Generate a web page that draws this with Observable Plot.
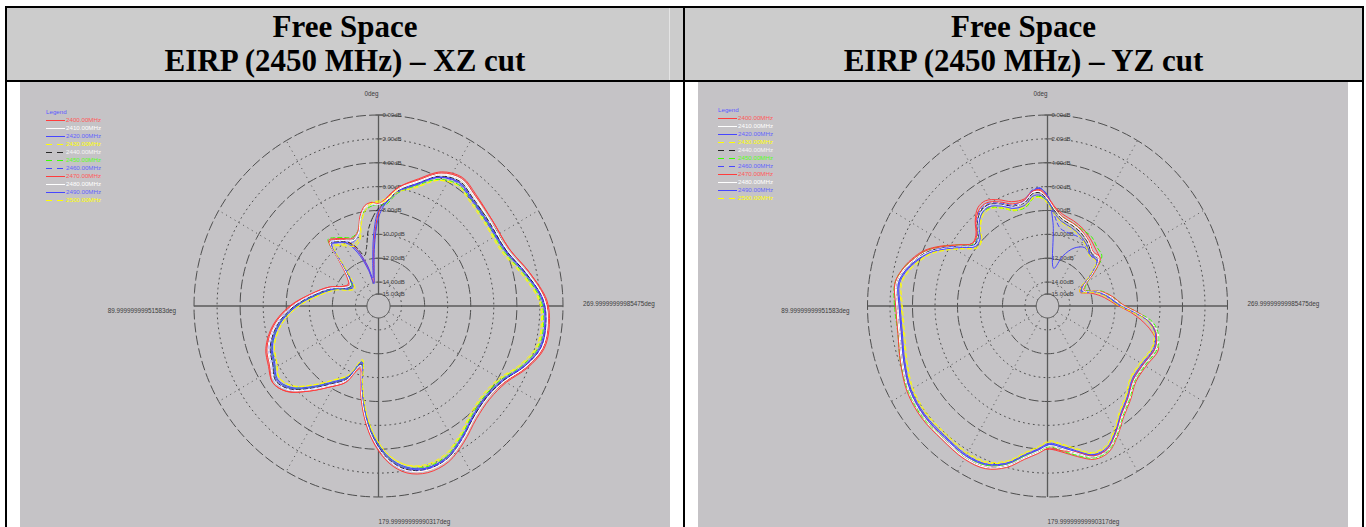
<!DOCTYPE html>
<html>
<head>
<meta charset="utf-8">
<script src="https://cdn.jsdelivr.net/npm/d3@7"></script>
<script src="https://cdn.jsdelivr.net/npm/@observablehq/plot@0.6"></script>
<style>
  html, body { margin: 0; padding: 0; background: #ffffff; }
  body { width: 1366px; height: 527px; overflow: hidden; position: relative; }
  .bar { position: absolute; background: #000000; }
  .head { position: absolute; top: 8px; height: 72px; background: #cccccc; }
  .title { position: absolute; top: 10px; text-align: center; font-family: "Liberation Serif", "Times New Roman", serif;
           font-weight: bold; font-size: 31px; line-height: 34px; color: #000; white-space: nowrap; }
  .panel { position: absolute; top: 82px; width: 650px; height: 445px; background: #c5c3c6; overflow: hidden; }
  .panel svg.plot { position: absolute; left: 0; top: 0; }
  .legend { position: absolute; font-family: "Liberation Sans", Arial, sans-serif; font-size: 6.2px; line-height: 8px; white-space: nowrap; }
  .legend .row { height: 8px; display: flex; align-items: center; }
  .legend svg { display: block; margin-right: 1px; }
</style>
</head>
<body>
<div class="head" style="left:7px;width:676px;"></div>
<div class="head" style="left:685px;width:677px;"></div>
<div style="position:absolute;left:669px;top:8px;width:1px;height:72px;background:#e4e4e4;"></div>
<div class="bar" style="left:5px;top:6px;width:1359px;height:2px;"></div>
<div class="bar" style="left:5px;top:80px;width:1359px;height:2px;"></div>
<div class="bar" style="left:5px;top:6px;width:2px;height:521px;"></div>
<div class="bar" style="left:683px;top:6px;width:2px;height:521px;"></div>
<div class="bar" style="left:1362px;top:6px;width:2px;height:521px;"></div>
<div class="title" style="left:7px;width:676px;">Free Space<br>EIRP (2450 MHz) – XZ cut</div>
<div class="title" style="left:685px;width:677px;">Free Space<br>EIRP (2450 MHz) – YZ cut</div>
<div class="panel" id="pXZ" style="left:20px;"></div>
<div class="panel" id="pYZ" style="left:698px;"></div>

<script>
// ---------------- DATA ----------------
const FREQS = ["2400.00MHz","2410.00MHz","2420.00MHz","2430.00MHz","2440.00MHz","2450.00MHz",
               "2460.00MHz","2470.00MHz","2480.00MHz","2490.00MHz","2500.00MHz"];
const LINE_COLORS = ["#ff3c3c","#ffffff","#4646ff","#ffff00","#282828","#3cff00",
                     "#4646ff","#ff3c3c","#ffffff","#4646ff","#ffff00"];
const TEXT_COLORS = ["#ff5a5a","#ffffff","#6464ff","#ffff00","#f4f4f4","#5aff1e",
                     "#6464ff","#ff5a5a","#ffffff","#6464ff","#ffff00"];
const DASHED = [false,false,false,true,true,true,true,false,false,false,true];

// dB grid
const RING_DASHED = [0, -4, -8, -12];
const RING_DOTTED = [-2, -6, -10, -14];
const RING_SOLID = [-15];
const DB_LABEL_LEVELS = [0, -2, -4, -6, -8, -10, -12, -14, -15];
const SPOKE_ANGLES = [30, 60, 120, 150, 210, 240, 300, 330];
const AXIS_ANGLES = [0, 90, 180, 270];
const DB_MIN = -16, DB_MAX = 0;
const ANGLE_LABELS = ["0deg", "89.99999999951583deg", "179.99999999990317deg", "269.99999999985475deg"];

// XZ cut: angle (deg, counter-clockwise from top) and EIRP (dB) per frequency
const XZ_ANGLES = [0,4,8,12,16,22,28,34,38,42, 48,55,62,70,80,90,100,110,118,125,
  132,140,148,156,163,168,173,178,184,190, 197,205,213,222,231,240,248,256,264,272,
  282,293,306,318,326,334,342,350,356];
const XZ_2400 = [-8.2,-10.6,-13.0,-14.0,-12.6,-10.8,-9.7,-9.3,-9.1,-11.0, -12.4,-12.9,-12.5,-11.4,-10.1,-8.3,-6.7,-5.6,-5.2,-4.8,
  -5.3,-6.7,-8.0,-9.0,-10.5,-8.6,-6.4,-4.6,-3.0,-2.0, -1.6,-1.8,-2.6,-3.5,-3.8,-3.3,-2.2,-1.3,-1.2,-1.5,
  -2.6,-3.7,-3.8,-3.4,-3.0,-3.5,-4.8,-5.9,-7.0];
const XZ_2410 = [-7.4,-7.4,-7.6,-8.4,-9.7,-10.1,-9.8,-9.4,-9.2,-11.1, -12.5,-13.0,-12.7,-11.6,-10.2,-8.5,-6.9,-5.8,-5.4,-5.0,
  -5.5,-6.8,-8.1,-9.1,-10.6,-8.7,-6.6,-4.7,-3.0,-2.0, -1.6,-1.8,-2.6,-3.5,-3.8,-3.4,-2.3,-1.4,-1.3,-1.6,
  -2.8,-3.9,-4.0,-3.6,-3.2,-3.7,-5.0,-6.0,-7.1];
const XZ_2420 = [-8.6,-11.0,-13.3,-14.1,-12.9,-11.2,-10.0,-9.6,-9.4,-11.3, -12.7,-13.2,-12.9,-11.8,-10.5,-8.8,-7.2,-6.1,-5.7,-5.2,
  -5.7,-7.1,-8.4,-9.4,-11.0,-9.0,-6.8,-4.9,-3.2,-2.2, -1.8,-2.0,-2.8,-3.6,-3.9,-3.5,-2.4,-1.5,-1.4,-1.7,
  -2.9,-4.0,-4.2,-3.9,-3.5,-4.0,-5.3,-6.3,-7.4];
const XZ_2430 = [-7.2,-7.3,-7.7,-8.7,-10.0,-10.4,-10.1,-9.8,-9.6,-11.5, -12.9,-13.4,-13.1,-12.0,-10.8,-9.1,-7.5,-6.4,-6.0,-5.5,
  -6.0,-7.4,-8.7,-9.6,-11.2,-9.3,-7.1,-5.2,-3.5,-2.5, -2.0,-2.2,-3.0,-3.9,-4.2,-3.8,-2.7,-1.8,-1.7,-2.0,
  -3.2,-4.3,-4.4,-4.1,-3.8,-4.3,-5.5,-6.1,-7.0];
const XZ_2440 = [-7.8,-8.6,-9.6,-11.0,-11.6,-10.6,-9.9,-9.5,-9.3,-11.2, -12.6,-13.1,-12.8,-11.7,-10.4,-8.7,-7.1,-6.0,-5.6,-5.1,
  -5.6,-7.0,-8.3,-9.3,-10.9,-8.9,-6.7,-4.8,-3.1,-2.1, -1.7,-1.9,-2.7,-3.6,-3.9,-3.5,-2.4,-1.5,-1.4,-1.7,
  -2.9,-4.0,-4.1,-3.8,-3.4,-3.9,-5.2,-6.2,-7.3];
const XZ_2450 = [-7.5,-7.6,-7.9,-8.5,-9.5,-9.8,-9.5,-9.1,-8.9,-11.0, -12.6,-13.2,-13.0,-11.9,-10.6,-8.9,-7.3,-6.2,-5.8,-5.3,
  -5.8,-7.2,-8.5,-9.5,-11.1,-9.1,-6.9,-5.0,-3.3,-2.3, -1.9,-2.1,-2.9,-3.8,-4.1,-3.7,-2.6,-1.7,-1.6,-1.9,
  -3.1,-4.2,-4.3,-4.0,-3.7,-4.2,-5.4,-6.4,-7.5];
const XZ_2460 = [-7.5,-7.5,-7.7,-8.5,-9.7,-10.2,-9.8,-9.4,-9.2,-11.1, -12.5,-13.0,-12.7,-11.6,-10.3,-8.6,-7.0,-5.9,-5.5,-5.0,
  -5.5,-6.9,-8.2,-9.2,-10.8,-8.8,-6.6,-4.7,-3.0,-2.0, -1.7,-1.9,-2.7,-3.7,-4.0,-3.6,-2.4,-1.5,-1.4,-1.7,
  -3.0,-4.1,-4.3,-4.0,-3.6,-4.0,-5.2,-6.2,-7.3];
const XZ_2470 = [-7.4,-7.3,-7.5,-8.3,-9.5,-9.9,-9.6,-9.2,-9.0,-10.9, -12.3,-12.8,-12.5,-11.4,-10.1,-8.4,-6.8,-5.7,-5.3,-4.8,
  -5.3,-6.7,-8.0,-9.0,-10.6,-8.6,-6.4,-4.5,-2.8,-1.8, -1.4,-1.6,-2.4,-3.3,-3.6,-3.2,-2.1,-1.2,-1.1,-1.4,
  -2.6,-3.7,-3.8,-3.5,-3.1,-3.6,-4.9,-5.9,-7.0];
const XZ_2480 = [-7.5,-7.5,-7.7,-8.5,-9.7,-10.1,-9.8,-9.4,-9.2,-11.1, -12.5,-13.0,-12.7,-11.6,-10.3,-8.6,-7.0,-5.9,-5.5,-5.0,
  -5.5,-6.9,-8.2,-9.2,-10.8,-8.8,-6.6,-4.7,-3.0,-2.0, -1.6,-1.8,-2.6,-3.5,-3.8,-3.4,-2.3,-1.4,-1.3,-1.6,
  -2.8,-3.9,-4.0,-3.7,-3.3,-3.8,-5.1,-6.1,-7.2];
const XZ_2490 = [-8.0,-10.0,-12.4,-13.6,-12.4,-10.9,-10.0,-9.6,-9.4,-11.4, -12.8,-13.3,-13.0,-11.9,-10.6,-8.9,-7.3,-6.2,-5.8,-5.3,
  -5.8,-7.2,-8.5,-9.5,-11.1,-9.1,-6.9,-5.0,-3.3,-2.3, -1.8,-2.0,-2.8,-3.7,-4.0,-3.6,-2.5,-1.6,-1.5,-1.8,
  -3.0,-4.1,-4.2,-3.9,-3.5,-4.0,-5.3,-6.3,-7.4];
const XZ_2500 = [-7.3,-7.4,-7.9,-8.9,-10.2,-10.6,-10.3,-9.9,-9.7,-11.6, -13.0,-13.5,-13.2,-12.1,-10.8,-9.1,-7.5,-6.4,-6.0,-5.5,
  -6.0,-7.4,-8.7,-9.7,-11.3,-9.3,-7.1,-5.2,-3.5,-2.5, -2.1,-2.3,-3.1,-4.0,-4.3,-3.9,-2.8,-1.9,-1.8,-2.1,
  -3.3,-4.4,-4.5,-4.2,-3.8,-4.3,-5.6,-6.3,-7.2];

// YZ cut
const YZ_ANGLES = [0,4,8,13,20,26,32,37,42,47, 52,57,62,67,72,77,82,90,100,110,
  120,130,140,150,158,165,171,176,181,186, 192,198,204,210,216,223,231,240,250,257,
  262,266,271,278,285,292,298,304,311,318, 326,334,342,350,356];
const YZ_2400 = [-6.8,-6.2,-6.3,-6.8,-6.7,-6.1,-5.6,-5.7,-6.4,-7.3, -7.5,-6.6,-5.3,-4.1,-3.3,-2.7,-2.4,-2.8,-2.8,-2.4,
  -1.9,-1.7,-1.6,-1.4,-1.5,-2.3,-3.3,-3.9,-4.0,-3.7, -3.1,-2.5,-2.6,-3.5,-4.5,-5.2,-5.9,-5.9,-5.5,-6.5,
  -7.6,-8.6,-9.9,-10.9,-11.9,-12.9,-12.6,-11.4,-9.9,-9.6, -9.2,-8.8,-8.5,-8.2,-7.6];
const YZ_2410 = [-7.0,-6.4,-6.4,-7.0,-7.0,-6.4,-5.9,-6.0,-6.6,-7.5, -7.6,-6.7,-5.5,-4.3,-3.5,-2.8,-2.4,-2.6,-2.6,-2.2,
  -1.7,-1.5,-1.5,-1.3,-1.4,-2.1,-3.1,-3.7,-4.2,-3.9, -3.3,-2.6,-2.7,-3.6,-4.6,-5.3,-6.0,-6.0,-5.6,-5.9,
  -6.7,-8.0,-9.4,-10.3,-11.2,-12.5,-12.2,-11.1,-9.9,-9.9, -9.4,-9.0,-8.8,-8.5,-7.8];
const YZ_2420 = [-6.8,-6.1,-6.3,-7.0,-7.2,-6.6,-6.1,-6.2,-6.8,-7.7, -7.8,-6.9,-5.7,-4.5,-3.7,-3.0,-2.6,-2.8,-2.8,-2.4,
  -1.9,-1.7,-1.7,-1.5,-1.6,-2.3,-3.3,-3.9,-4.4,-4.1, -3.5,-2.8,-2.9,-3.8,-4.8,-5.5,-6.2,-6.2,-5.8,-6.1,
  -6.9,-8.2,-9.6,-10.5,-11.4,-12.7,-12.4,-11.3,-10.2,-10.3, -10.1,-10.6,-11.6,-12.8,-9.0];
const YZ_2430 = [-7.3,-6.8,-6.8,-7.3,-7.4,-6.8,-6.3,-6.4,-7.0,-7.9, -8.0,-7.1,-5.9,-4.7,-3.9,-3.2,-2.8,-3.0,-3.0,-2.6,
  -2.1,-1.9,-1.9,-1.7,-1.8,-2.5,-3.5,-4.1,-4.6,-4.3, -3.7,-3.0,-3.1,-4.0,-5.0,-5.7,-6.4,-6.4,-6.0,-6.2,
  -7.0,-8.3,-9.7,-10.6,-11.5,-12.8,-12.5,-11.4,-10.2,-10.3, -9.8,-9.4,-9.1,-8.8,-8.1];
const YZ_2440 = [-7.1,-6.5,-6.5,-7.1,-7.1,-6.5,-6.0,-6.1,-6.7,-7.6, -7.7,-6.8,-5.6,-4.4,-3.6,-2.9,-2.5,-2.7,-2.7,-2.3,
  -1.8,-1.6,-1.6,-1.4,-1.5,-2.2,-3.2,-3.8,-4.3,-4.0, -3.4,-2.7,-2.8,-3.7,-4.7,-5.4,-6.1,-6.1,-5.7,-6.0,
  -6.8,-8.1,-9.5,-10.4,-11.3,-12.6,-12.3,-11.2,-10.0,-10.1, -9.6,-9.2,-8.9,-8.6,-7.9];
const YZ_2450 = [-7.2,-6.8,-6.9,-7.5,-7.5,-6.9,-6.3,-6.3,-6.8,-7.5, -7.6,-6.6,-5.4,-4.2,-3.4,-2.7,-2.3,-2.4,-2.5,-2.1,
  -1.7,-1.5,-1.6,-1.4,-1.6,-2.3,-3.3,-3.8,-4.2,-3.8, -3.2,-2.6,-2.7,-3.6,-4.6,-5.3,-6.0,-6.0,-5.6,-5.9,
  -6.6,-7.9,-9.3,-10.2,-11.1,-12.4,-12.1,-11.0,-9.6,-9.4, -9.0,-8.9,-8.7,-8.4,-7.8];
const YZ_2460 = [-6.7,-6.1,-6.2,-6.9,-7.0,-6.4,-5.9,-6.0,-6.6,-7.5, -7.7,-6.8,-5.6,-4.5,-3.7,-3.0,-2.6,-2.8,-2.8,-2.4,
  -1.9,-1.7,-1.7,-1.5,-1.7,-2.4,-3.4,-3.9,-4.4,-4.1, -3.5,-2.9,-2.9,-3.8,-4.8,-5.5,-6.2,-6.2,-5.8,-6.1,
  -6.9,-8.2,-9.6,-10.5,-11.4,-12.7,-12.4,-11.3,-10.1,-10.2, -9.8,-9.6,-9.6,-9.4,-8.2];
const YZ_2470 = [-6.9,-6.3,-6.3,-6.9,-6.9,-6.3,-5.8,-5.9,-6.5,-7.4, -7.5,-6.6,-5.4,-4.2,-3.4,-2.7,-2.3,-2.5,-2.5,-2.1,
  -1.6,-1.4,-1.4,-1.2,-1.3,-2.0,-3.0,-3.6,-4.1,-3.8, -3.5,-2.8,-2.9,-3.8,-4.8,-5.5,-6.2,-6.2,-5.8,-6.1,
  -6.9,-7.9,-9.3,-10.2,-11.2,-12.5,-12.2,-11.0,-9.8,-9.9, -9.4,-9.0,-8.7,-8.4,-7.7];
const YZ_2480 = [-7.0,-6.4,-6.4,-7.0,-7.2,-6.6,-6.1,-6.2,-6.8,-7.7, -7.8,-6.9,-5.7,-4.5,-3.6,-2.9,-2.5,-2.7,-2.7,-2.3,
  -1.8,-1.6,-1.6,-1.4,-1.5,-2.2,-3.2,-3.8,-4.3,-4.0, -3.4,-2.7,-2.8,-3.7,-4.7,-5.4,-6.1,-6.1,-5.7,-6.0,
  -6.8,-8.1,-9.5,-10.4,-11.3,-12.6,-12.3,-11.2,-10.0,-10.0, -9.5,-9.1,-8.8,-8.5,-7.8];
const YZ_2490 = [-7.2,-6.7,-6.7,-7.3,-7.3,-6.7,-6.2,-6.3,-6.9,-7.8, -7.9,-7.0,-5.8,-4.6,-3.8,-3.1,-2.7,-2.9,-2.9,-2.5,
  -2.0,-1.8,-1.8,-1.6,-1.7,-2.4,-3.4,-4.0,-4.5,-4.2, -3.6,-2.9,-3.0,-3.9,-4.9,-5.6,-6.3,-6.3,-5.9,-6.2,
  -7.0,-8.3,-9.7,-10.6,-11.5,-12.8,-12.5,-11.4,-10.2,-10.3, -9.8,-9.4,-9.1,-8.8,-8.1];
const YZ_2500 = [-7.4,-6.9,-6.9,-7.4,-7.5,-6.9,-6.4,-6.5,-7.1,-8.0, -8.1,-7.2,-6.0,-4.8,-4.0,-3.3,-2.9,-3.1,-3.1,-2.7,
  -2.2,-2.0,-2.0,-1.8,-1.9,-2.6,-3.6,-4.2,-4.7,-4.4, -3.8,-3.1,-3.2,-4.1,-5.1,-5.8,-6.5,-6.5,-6.1,-6.3,
  -7.1,-8.4,-9.8,-10.7,-11.6,-12.9,-12.6,-11.5,-10.3,-10.4, -9.9,-9.5,-9.2,-8.9,-8.2];

const XZ_SERIES = [XZ_2400,XZ_2410,XZ_2420,XZ_2430,XZ_2440,XZ_2450,XZ_2460,XZ_2470,XZ_2480,XZ_2490,XZ_2500];
const YZ_SERIES = [YZ_2400,YZ_2410,YZ_2420,YZ_2430,YZ_2440,YZ_2450,YZ_2460,YZ_2470,YZ_2480,YZ_2490,YZ_2500];

// ---------------- DRAWING ----------------
const rho = db => (db - DB_MIN) / (DB_MAX - DB_MIN);
const px = (deg, db) => -rho(db) * Math.sin(deg * Math.PI / 180);
const py = (deg, db) =>  rho(db) * Math.cos(deg * Math.PI / 180);

function ringRows(levels) {
  const rows = [];
  for (const lv of levels) for (let a = 0; a < 360; a += 2) rows.push({lv, a});
  return rows;
}

function polarPlot(host, angles, seriesList, geo) {
  const {cx, cy, rx, ry} = geo;
  const GRID = "#4e4e4e";
  const LABEL = "#3c3c3c";
  const marks = [];
  // rings
  marks.push(Plot.line(ringRows(RING_DASHED), {x: d => px(d.a, d.lv), y: d => py(d.a, d.lv), z: "lv",
    curve: "linear-closed", stroke: GRID, strokeWidth: 1, strokeDasharray: "9,4"}));
  marks.push(Plot.line(ringRows(RING_DOTTED), {x: d => px(d.a, d.lv), y: d => py(d.a, d.lv), z: "lv",
    curve: "linear-closed", stroke: GRID, strokeWidth: 1, strokeDasharray: "1,4"}));
  marks.push(Plot.line(ringRows(RING_SOLID), {x: d => px(d.a, d.lv), y: d => py(d.a, d.lv), z: "lv",
    curve: "linear-closed", stroke: GRID, strokeWidth: 1}));
  // spokes
  marks.push(Plot.link(SPOKE_ANGLES, {x1: a => px(a, -15), y1: a => py(a, -15), x2: a => px(a, 0), y2: a => py(a, 0),
    stroke: GRID, strokeWidth: 1, strokeDasharray: "1,4"}));
  // axes
  marks.push(Plot.link(AXIS_ANGLES, {x1: a => px(a, -15), y1: a => py(a, -15), x2: a => px(a, 0), y2: a => py(a, 0),
    stroke: "#5a5a5a", strokeWidth: 1.3}));
  // dB ticks + labels on the vertical axis
  marks.push(Plot.link(DB_LABEL_LEVELS, {x1: () => -3 / rx, x2: () => 4 / rx, y1: lv => rho(lv), y2: lv => rho(lv),
    stroke: "#5a5a5a", strokeWidth: 1}));
  marks.push(Plot.text(DB_LABEL_LEVELS, {x: () => 0, y: lv => rho(lv), text: lv => Math.abs(lv).toFixed(2) + "dB",
    textAnchor: "start", dx: 4, fontSize: 6, fill: LABEL}));
  // angle labels
  marks.push(Plot.text([ANGLE_LABELS[0]], {x: () => px(0, 0), y: () => py(0, 0), text: d => d, textAnchor: "end", dy: -21, fontSize: 6.3, fill: LABEL}));
  marks.push(Plot.text([ANGLE_LABELS[1]], {x: () => px(90, 0), y: () => py(90, 0), text: d => d, textAnchor: "end", dx: -18, dy: 5, fontSize: 6.3, fill: LABEL}));
  marks.push(Plot.text([ANGLE_LABELS[2]], {x: () => px(180, 0), y: () => py(180, 0), text: d => d, textAnchor: "start", dy: 25, fontSize: 6.3, fill: LABEL}));
  marks.push(Plot.text([ANGLE_LABELS[3]], {x: () => px(270, 0), y: () => py(270, 0), text: d => d, textAnchor: "start", dx: 20, dy: -2.5, fontSize: 6.3, fill: LABEL}));
  // pattern curves
  seriesList.forEach((vals, k) => {
    const rows = angles.map((a, i) => ({a, db: vals[i], f: FREQS[k]}));
    marks.push(Plot.line(rows, {x: d => px(d.a, d.db), y: d => py(d.a, d.db),
      curve: "catmull-rom-closed", stroke: LINE_COLORS[k], strokeWidth: 1,
      strokeDasharray: DASHED[k] ? "4,3" : null}));
  });

  const svg = Plot.plot({
    width: 650, height: 445,
    margin: 0,
    x: {domain: [-1, 1], range: [cx - rx, cx + rx], axis: null},
    y: {domain: [-1, 1], range: [cy + ry, cy - ry], axis: null},
    style: {background: "transparent", fontFamily: "Liberation Sans, Arial, sans-serif", overflow: "visible"},
    marks
  });
  svg.classList.add("plot");
  host.appendChild(svg);

  // legend
  const lg = document.createElement("div");
  lg.className = "legend";
  lg.style.left = geo.legendX + "px";
  lg.style.top = geo.legendY + "px";
  let html = '<div class="row" style="color:#5a5aff">Legend</div>';
  FREQS.forEach((f, k) => {
    html += '<div class="row"><svg width="19" height="3"><line x1="0" y1="1.5" x2="19" y2="1.5" stroke="' + LINE_COLORS[k] +
      '" stroke-width="1"' + (DASHED[k] ? ' stroke-dasharray="6,5"' : '') + '/></svg><span style="color:' + TEXT_COLORS[k] + '">' + f + '</span></div>';
  });
  lg.innerHTML = html;
  host.appendChild(lg);
}

polarPlot(document.getElementById("pXZ"), XZ_ANGLES, XZ_SERIES, {cx: 358, cy: 223.5, rx: 184.5, ry: 191, legendX: 26, legendY: 26});
polarPlot(document.getElementById("pYZ"), YZ_ANGLES, YZ_SERIES, {cx: 349, cy: 223.5, rx: 180, ry: 191, legendX: 20, legendY: 24});
</script>
</body>
</html>
